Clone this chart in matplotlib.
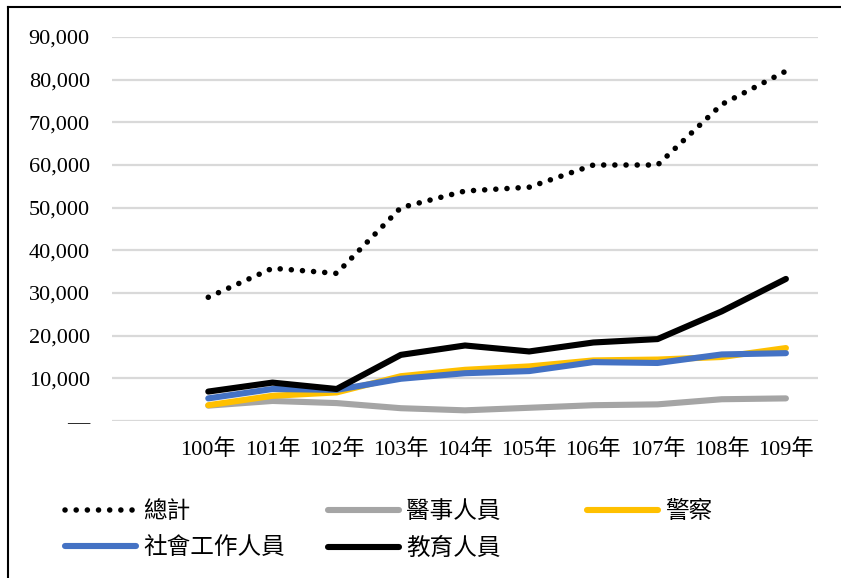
import matplotlib.pyplot as plt
import matplotlib.lines as mlines
import numpy as np

plt.rcParams['font.family'] = ['Liberation Serif', 'Noto Sans CJK TC']

# data
years = ['100年', '101年', '102年', '103年', '104年', '105年', '106年', '107年', '108年', '109年']
total = [29000, 35800, 34600, 50000, 53900, 54800, 60000, 60000, 74200, 82000]
medical = [3600, 4700, 4200, 3000, 2500, 3100, 3700, 3900, 5100, 5300]
police = [3700, 5900, 6700, 10500, 12000, 12800, 14200, 14400, 15000, 17100]
social = [5300, 7500, 7300, 9900, 11200, 11700, 13800, 13600, 15600, 15900]
education = [6900, 9000, 7500, 15500, 17700, 16300, 18400, 19200, 25700, 33300]
yticks = [0, 10000, 20000, 30000, 40000, 50000, 60000, 70000, 80000, 90000]

fig = plt.figure(figsize=(8.41, 5.78), dpi=100)
ax = fig.add_axes([112 / 841, 1 - 421 / 578, 706 / 841, 384 / 578])

# first category on the axis is empty in the source sheet
x = np.arange(len(years)) + 1

lw = 4.4
l_total, = ax.plot(x, total, color='black', lw=4, linestyle=(0, (0.01, 2.0)),
                   dash_capstyle='round', label='總計')
l_med, = ax.plot(x, medical, color='#A5A5A5', lw=lw, solid_capstyle='round',
                 solid_joinstyle='round', label='醫事人員')
l_pol, = ax.plot(x, police, color='#FFC000', lw=lw, solid_capstyle='round',
                 solid_joinstyle='round', label='警察')
l_soc, = ax.plot(x, social, color='#4472C4', lw=lw, solid_capstyle='round',
                 solid_joinstyle='round', label='社會工作人員')
l_edu, = ax.plot(x, education, color='black', lw=lw, solid_capstyle='round',
                 solid_joinstyle='round', label='教育人員')

ax.set_xlim(-0.5, len(years) + 0.5)
ax.set_ylim(0, 90000)
ax.set_xticks(x)
ax.set_xticklabels(years, fontsize=16)
ax.set_yticks(yticks)
ax.set_yticklabels(['—' if v == 0 else f'{v:,}' for v in yticks], fontsize=16)
ax.tick_params(axis='both', length=0)
ax.tick_params(axis='y', pad=16)
ax.tick_params(axis='x', pad=13)
ax.grid(axis='y', color='#D9D9D9', lw=1.6)
ax.set_axisbelow(True)
for s in ax.spines.values():
    s.set_visible(False)

# legend laid out in three columns like the Excel one
cols = [([l_total, l_soc], 65), ([l_med, l_edu], 328), ([l_pol], 587)]
for hs, px in cols:
    fig.legend(handles=hs, loc='upper left', bbox_to_anchor=(px / 841, 1 - 501 / 578),
               frameon=False, fontsize=17, handlelength=3.0, handletextpad=0.3,
               borderpad=0, borderaxespad=0, labelspacing=0.62)

# outer frame of the chart object
fig.add_artist(mlines.Line2D([8 / 841, 1], [1 - 7 / 578, 1 - 7 / 578], color='black', lw=1.5))
fig.add_artist(mlines.Line2D([8 / 841, 8 / 841], [0, 1 - 7 / 578], color='black', lw=1.5))

plt.savefig('out.png', dpi=100)
